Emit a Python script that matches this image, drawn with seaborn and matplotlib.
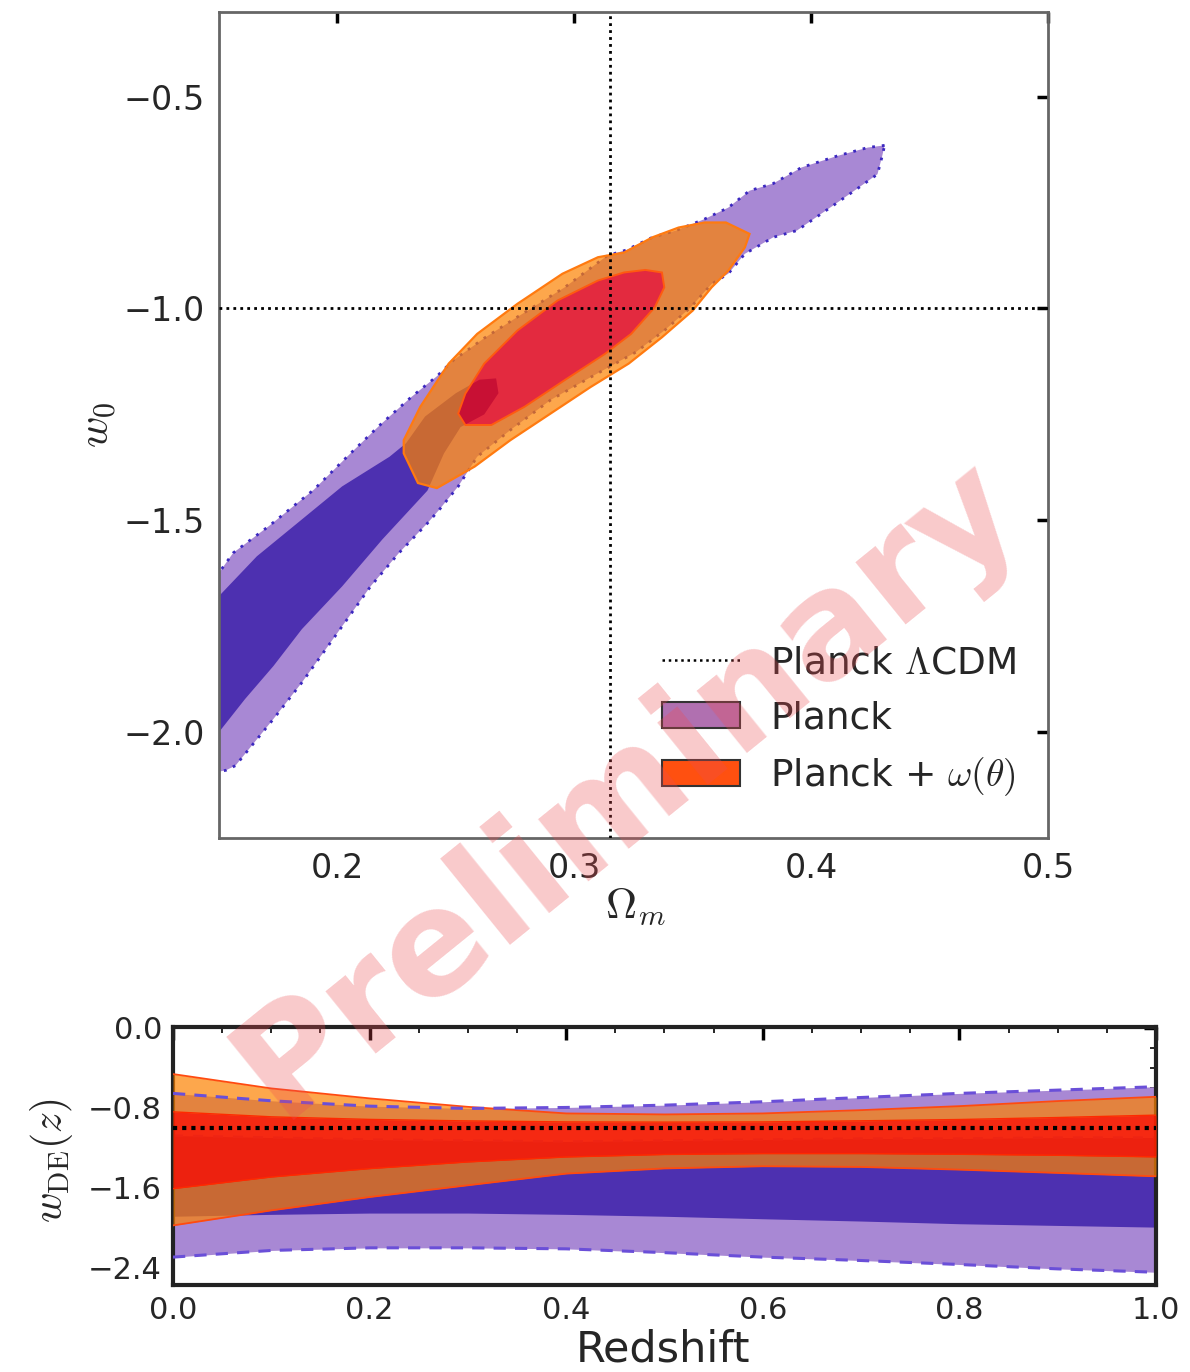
import numpy as np
import pandas as pd
import matplotlib
matplotlib.use("Agg")
import matplotlib.pyplot as plt
import seaborn as sns
from matplotlib.path import Path
from matplotlib.patches import PathPatch, Patch
from matplotlib.lines import Line2D
from matplotlib.ticker import MultipleLocator

# ---------------- data: top panel (Omega_m, w0) contour outlines ----------------
planck_2s_om = [0.431, 0.424, 0.411, 0.396, 0.384, 0.374, 0.365, 0.355, 0.343, 0.333, 0.322, 0.314,
                0.296, 0.276, 0.262, 0.249, 0.242, 0.231, 0.218, 0.205, 0.190, 0.171, 0.156, 0.150,
                0.144, 0.144, 0.153, 0.157, 0.173, 0.185, 0.200, 0.214, 0.226, 0.238, 0.243, 0.251,
                0.259, 0.273, 0.290, 0.307, 0.326, 0.338, 0.349, 0.358, 0.365, 0.372, 0.384, 0.394,
                0.408, 0.420, 0.428, 0.430]
planck_2s_w0 = [-0.615, -0.620, -0.640, -0.667, -0.705, -0.722, -0.762, -0.789, -0.816, -0.832, -0.862, -0.875,
                -0.950, -1.020, -1.070, -1.122, -1.160, -1.210, -1.275, -1.345, -1.428, -1.514, -1.577, -1.624,
                -1.670, -2.100, -2.090, -2.079, -1.969, -1.883, -1.766, -1.656, -1.577, -1.507, -1.475, -1.420,
                -1.350, -1.287, -1.216, -1.162, -1.103, -1.052, -0.998, -0.942, -0.918, -0.871, -0.832, -0.816,
                -0.762, -0.715, -0.683, -0.640]

planck_1s_om = [0.144, 0.150, 0.166, 0.185, 0.202, 0.222, 0.229, 0.237, 0.250, 0.260, 0.267, 0.268,
                0.262, 0.252, 0.245, 0.238, 0.219, 0.202, 0.185, 0.173, 0.161, 0.150, 0.144]
planck_1s_w0 = [-1.720, -1.679, -1.585, -1.498, -1.420, -1.350, -1.318, -1.255, -1.200, -1.168, -1.165, -1.200,
                -1.250, -1.280, -1.342, -1.430, -1.545, -1.656, -1.757, -1.844, -1.922, -2.000, -2.040]

wth_2s_om = [0.355, 0.364, 0.374, 0.372, 0.365, 0.358, 0.350, 0.337, 0.323, 0.307, 0.290, 0.273, 0.258,
             0.242, 0.234, 0.228, 0.228, 0.235, 0.247, 0.259, 0.276, 0.295, 0.310, 0.321, 0.333, 0.344]
wth_2s_w0 = [-0.797, -0.797, -0.824, -0.856, -0.911, -0.950, -1.005, -1.068, -1.130, -1.185, -1.248, -1.311, -1.373,
             -1.424, -1.412, -1.342, -1.311, -1.232, -1.130, -1.060, -0.989, -0.918, -0.879, -0.868, -0.832, -0.809]

wth_1s_om = [0.330, 0.337, 0.338, 0.334, 0.324, 0.313, 0.296, 0.279, 0.265, 0.254, 0.251, 0.254, 0.262,
             0.276, 0.293, 0.310, 0.321]
wth_1s_w0 = [-0.909, -0.915, -0.950, -0.997, -1.060, -1.107, -1.169, -1.232, -1.275, -1.275, -1.248, -1.201, -1.130,
             -1.052, -0.981, -0.934, -0.915]

lcdm_om = 0.315
lcdm_w0 = -1.0

# ---------------- data: bottom panel w_DE(z) bands ----------------
redshift = [0.0, 0.1, 0.2, 0.3, 0.4, 0.5, 0.6, 0.7, 0.8, 0.9, 1.0]
planck_2s_hi = [-0.657, -0.731, -0.785, -0.808, -0.798, -0.775, -0.741, -0.698, -0.657, -0.624, -0.590]
planck_2s_lo = [-2.300, -2.233, -2.207, -2.207, -2.217, -2.255, -2.300, -2.334, -2.374, -2.418, -2.452]
planck_1s_hi = [-1.08, -1.10, -1.12, -1.13, -1.14, -1.13, -1.12, -1.11, -1.11, -1.10, -1.10]
planck_1s_lo = [-1.890, -1.871, -1.858, -1.858, -1.871, -1.890, -1.915, -1.938, -1.965, -1.982, -1.999]
wth_2s_hi = [-0.463, -0.607, -0.707, -0.792, -0.858, -0.868, -0.858, -0.825, -0.785, -0.734, -0.691]
wth_2s_lo = [-1.982, -1.831, -1.697, -1.579, -1.462, -1.410, -1.388, -1.395, -1.422, -1.455, -1.489]
wth_1s_hi = [-0.842, -0.892, -0.918, -0.933, -0.943, -0.945, -0.943, -0.932, -0.919, -0.899, -0.875]
wth_1s_lo = [-1.613, -1.496, -1.412, -1.345, -1.295, -1.270, -1.261, -1.261, -1.268, -1.278, -1.294]

legend_labels = [r"Planck $\Lambda$CDM", "Planck", r"Planck + $\omega(\theta)$"]

# ---------------- style ----------------
sns.set_theme(style="white")
plt.rcParams["font.family"] = ["DejaVu Sans"]
plt.rcParams["mathtext.fontset"] = "cm"

LIGHT_PURPLE = "#A888D4"
DARK_PURPLE = "#4D30B0"
PURPLE_EDGE = "#3B28C0"
ORANGE = "#FD8200"
RED = "#FD0300"

fig = plt.figure(figsize=(11.9, 13.72), dpi=100)
ax1 = fig.add_axes([0.184, 0.3892, 0.6967, 0.6021])
ax2 = fig.add_axes([0.1454, 0.0634, 0.826, 0.1881])


def oriented(xs, ys, ccw=True):
    xs = np.asarray(xs, float)
    ys = np.asarray(ys, float)
    area = 0.5 * np.sum(xs * np.roll(ys, -1) - np.roll(xs, -1) * ys)
    if (area > 0) != ccw:
        xs, ys = xs[::-1], ys[::-1]
    return np.column_stack([xs, ys])


# ---------------- top panel ----------------
ax1.fill(planck_2s_om, planck_2s_w0, color=LIGHT_PURPLE, lw=0, zorder=1)
ax1.fill(planck_2s_om, planck_2s_w0, facecolor="none", edgecolor=PURPLE_EDGE,
         lw=2.0, linestyle=(0, (1, 2.5)), zorder=1.5)
ax1.fill(planck_1s_om, planck_1s_w0, color=DARK_PURPLE, lw=0, zorder=2)

outer = oriented(wth_2s_om, wth_2s_w0, ccw=True)
inner = oriented(wth_1s_om, wth_1s_w0, ccw=False)
verts = np.vstack([outer, outer[:1], inner, inner[:1]])
codes = ([Path.MOVETO] + [Path.LINETO] * (len(outer) - 1) + [Path.CLOSEPOLY] +
         [Path.MOVETO] + [Path.LINETO] * (len(inner) - 1) + [Path.CLOSEPOLY])
ax1.add_patch(PathPatch(Path(verts, codes), facecolor=ORANGE, alpha=0.7, lw=0, zorder=3))
ax1.fill(wth_2s_om, wth_2s_w0, facecolor="none", edgecolor="#FF7A10", lw=1.6, zorder=3.5)
ax1.fill(wth_1s_om, wth_1s_w0, facecolor=RED, alpha=0.7, lw=0, zorder=4)
ax1.fill(wth_1s_om, wth_1s_w0, facecolor="none", edgecolor="#FF5A10", lw=1.4, zorder=4.5)

ax1.axvline(lcdm_om, color="black", ls=(0, (1, 1.5)), lw=2.0, zorder=6)
ax1.axhline(lcdm_w0, color="black", ls=(0, (1, 1.5)), lw=2.0, zorder=6)

ax1.set_xlim(0.15, 0.5)
ax1.set_ylim(-2.25, -0.3)
ax1.xaxis.set_major_locator(MultipleLocator(0.1))
ax1.yaxis.set_major_locator(MultipleLocator(0.5))
ax1.tick_params(direction="in", top=True, right=True, length=8, width=2.5,
                labelsize=24, color="black", pad=10)
for sp in ax1.spines.values():
    sp.set_color("#666666")
    sp.set_linewidth(2)
ax1.set_xlabel(r"$\Omega_m$", fontsize=31)
ax1.set_ylabel(r"$w_0$", fontsize=31)
ax1.xaxis.set_label_coords(0.502, -0.058)
ax1.yaxis.set_label_coords(-0.12, 0.5)

handles = [Line2D([0], [0], color="black", ls=(0, (1, 1.5)), lw=1.8),
           Patch(facecolor="#B070B0", edgecolor="#333333", lw=1.5),
           Patch(facecolor="#FF5010", edgecolor="#333333", lw=1.5)]
ax1.legend(handles, legend_labels, loc="lower right", frameon=False, fontsize=27,
           handlelength=2.1, handletextpad=0.8, labelspacing=0.5,
           borderaxespad=0.45, bbox_to_anchor=(1.0, 0.01))

# ---------------- bottom panel ----------------
df = pd.DataFrame({
    "z": redshift,
    "p2hi": planck_2s_hi, "p2lo": planck_2s_lo,
    "p1hi": planck_1s_hi, "p1lo": planck_1s_lo,
    "w2hi": wth_2s_hi, "w2lo": wth_2s_lo,
    "w1hi": wth_1s_hi, "w1lo": wth_1s_lo,
})

ax2.fill_between(df["z"], df["p2lo"], df["p2hi"], color=LIGHT_PURPLE, lw=0, zorder=1)
ax2.fill_between(df["z"], df["p1lo"], df["p1hi"], color=DARK_PURPLE, lw=0, zorder=2)
sns.lineplot(data=df, x="z", y="p1hi", ax=ax2, color="#6A4FD8", lw=1.8,
             linestyle=(0, (4, 4)), zorder=2.5)
ax2.fill_between(df["z"], df["w2lo"], df["w2hi"], color=ORANGE, alpha=0.7, lw=0, zorder=3)
for col in ["w2hi", "w2lo"]:
    sns.lineplot(data=df, x="z", y=col, ax=ax2, color="#FF4A10", lw=1.3, zorder=3.5)
ax2.fill_between(df["z"], df["w1lo"], df["w1hi"], color=RED, alpha=0.7, lw=0, zorder=4)
for col in ["w1hi", "w1lo"]:
    sns.lineplot(data=df, x="z", y=col, ax=ax2, color="#FF2A00", lw=1.0, zorder=4.5)
for col in ["p2hi", "p2lo"]:
    sns.lineplot(data=df, x="z", y=col, ax=ax2, color="#6A4FD8", lw=2.2,
                 linestyle=(0, (4, 3)), zorder=5)
ax2.axhline(-1.0, color="black", ls=(0, (1, 1.2)), lw=3, zorder=6)

ax2.set_xlim(0.0, 1.0)
ax2.set_ylim(-2.58, 0.01)
ax2.xaxis.set_major_locator(MultipleLocator(0.2))
ax2.xaxis.set_minor_locator(MultipleLocator(0.05))
ax2.yaxis.set_major_locator(MultipleLocator(0.8))
ax2.yaxis.set_minor_locator(MultipleLocator(0.2))
ax2.tick_params(which="major", direction="in", top=True, right=True, length=9, width=2.5,
                labelsize=22, color="black", pad=8)
ax2.tick_params(which="minor", direction="in", top=True, right=True, length=4, width=1.2,
                color="black")
for sp in ax2.spines.values():
    sp.set_color("#222222")
    sp.set_linewidth(3)
ax2.set_xlabel("Redshift", fontsize=31)
ax2.set_ylabel(r"$w_{\rm DE}(z)$", fontsize=30)
ax2.xaxis.set_label_coords(0.498, -0.17)
ax2.yaxis.set_label_coords(-0.10, 0.48)

# watermark
fig.text(0.528, 0.426, "Preliminary", fontsize=106, fontweight="bold", color="#ED4D52",
         alpha=0.3, rotation=39, ha="center", va="center", zorder=20)

fig.savefig("out.png", dpi=100)
